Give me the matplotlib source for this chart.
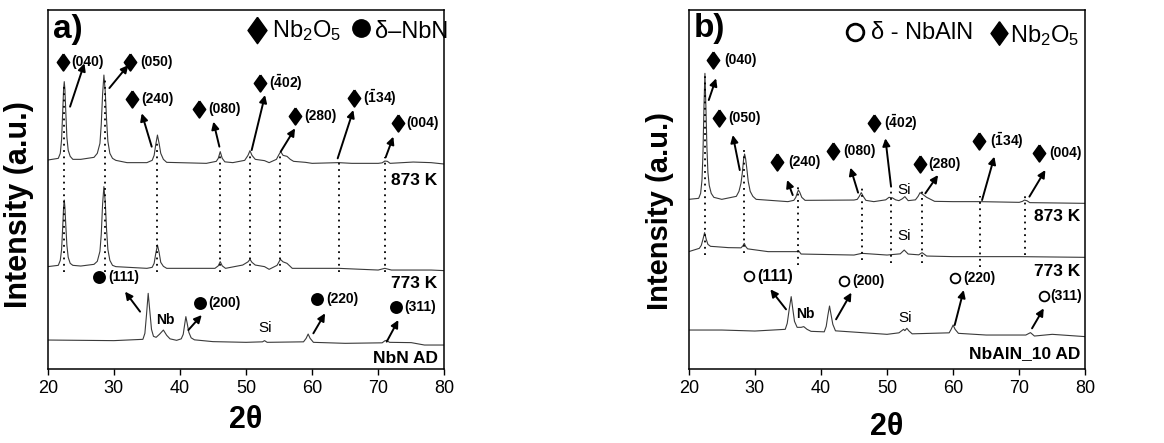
import matplotlib.pyplot as plt
import numpy as np

plt.rcParams['font.family'] = ['Liberation Sans', 'DejaVu Sans']
plt.rcParams['mathtext.fontset'] = 'custom'
plt.rcParams['mathtext.rm'] = 'Liberation Sans'
plt.rcParams['mathtext.it'] = 'Liberation Sans:italic'
plt.rcParams['mathtext.bf'] = 'Liberation Sans:bold'

# ---- panel a : NbN film (2theta, intensity a.u. incl. vertical offset)
tt_a873 = [20, 21.6, 21.9, 22.1, 22.25, 22.4, 22.5, 22.6, 22.75, 22.9, 23.1, 23.4, 23.8, 25, 27.0, 27.5,
           27.9, 28.1, 28.3, 28.5, 28.7, 28.9, 29.1, 29.4, 29.8, 30.3, 32, 35, 35.8, 36.1, 36.35, 36.6,
           36.85, 37.1, 37.5, 38, 44, 45.5, 45.8, 46.1, 46.4, 46.8, 48, 49.8, 50.3, 50.6, 50.9, 51.4,
           52.8, 53.5, 54.6, 55.0, 55.25, 55.6, 56.2, 56.7, 57.2, 59, 60, 64, 66, 70, 70.6, 71.0, 71.4,
           71.8, 75.3, 78, 80]
i_a873 = [209.3, 211, 216, 230, 255, 280, 287.7, 280, 255, 232, 219, 213, 210, 210, 212, 216,
          226, 245, 275, 294.3, 278, 250, 228, 216, 211, 209, 206.7, 206.7, 209, 214, 225, 234.3,
          226, 216, 210, 207, 206, 208, 211, 217.7, 211, 207.5, 206.7, 209, 214, 218.7, 214, 210,
          208.7, 206.7, 210, 215, 217.7, 214, 213, 210, 208, 207, 206, 206.7, 206, 206, 206.5, 208.3, 208,
          206, 207.3, 206.7, 205.3]

tt_a773 = [20, 21.6, 21.9, 22.1, 22.25, 22.4, 22.5, 22.6, 22.75, 22.9, 23.1, 23.4, 23.8, 25, 27.0, 27.5,
           27.9, 28.1, 28.3, 28.5, 28.7, 28.9, 29.1, 29.4, 29.8, 30.3, 35, 35.8, 36.1, 36.35, 36.6, 36.85,
           37.1, 37.5, 38, 45.3, 45.8, 46.1, 46.4, 46.9, 49.5, 50.3, 50.6, 50.9, 51.4, 52.8, 53.5, 54.7,
           55.2, 55.6, 56.2, 57, 59, 64, 70, 71, 72, 78, 80]
i_a773 = [102.7, 104, 109, 120, 140, 162, 169.3, 162, 142, 124, 112, 106, 104, 103.3, 105, 108,
          118, 135, 165, 182.7, 168, 140, 120, 109, 104, 102.7, 101, 102, 106, 116, 124.3, 117,
          107, 103, 101, 101, 103.5, 107.7, 103.5, 101, 104.3, 107.5, 110, 107, 104.3, 102.7, 100, 104,
          110, 107.5, 106, 101, 101, 101, 99.3, 101, 99.3, 99.3, 98.7]

tt_aAD = [20, 30, 34.4, 34.7, 34.95, 35.2, 35.45, 35.7, 36.0, 36.4, 36.9, 37.5, 38.0, 38.5, 39.5, 40.2,
          40.5, 40.7, 40.9, 41.1, 41.35, 41.7, 42.2, 45, 50, 52.5, 52.8, 53.2, 58.7, 59.1, 59.4, 59.7,
          60.2, 65, 70.6, 71.0, 71.3, 71.7, 75, 77, 80]
i_aAD = [29.3, 28.7, 30, 36, 55, 76, 58, 40, 33, 32, 35, 39.3, 34, 30.5, 29, 30.5,
         35, 44, 52.7, 46, 37, 31.5, 29.5, 27.7, 27, 27.5, 28.7, 27, 27.5, 31, 35.3, 31,
         27, 26, 26.5, 28.5, 29, 27, 26.7, 24.3, 24.3]

pk_a = [22.5, 28.6, 36.6, 46.1, 50.6, 55.2, 64.0, 71.0]
pk_a_top = [286, 292.7, 229.3, 217.7, 217.7, 216, 210, 212.7]

# ---- panel b : NbAlN_10 film
tt_b873 = [20, 21.5, 21.8, 22.0, 22.15, 22.3, 22.45, 22.6, 22.75, 22.9, 23.1, 23.4, 23.8, 25, 27.2, 27.6,
           27.9, 28.1, 28.3, 28.45, 28.6, 28.8, 29.0, 29.3, 29.7, 30.2, 35, 35.9, 36.2, 36.45, 36.6, 36.8,
           37.1, 37.6, 45, 45.5, 45.8, 46.1, 46.4, 46.8, 48, 49.8, 50.3, 50.8, 51.3, 51.8, 52.3, 52.7,
           53.2, 54.3, 54.7, 55.0, 55.4, 56.0, 56.6, 57.2, 60, 64, 70, 70.5, 70.8, 71.2, 71.6, 80]
i_b873 = [170, 171, 176, 189, 215, 262, 296, 262, 222, 197, 184, 176, 172, 170, 173, 178,
          186, 196, 210, 215.3, 211, 200, 188, 178, 173, 170, 167.7, 169, 172, 177, 179.3, 177,
          172, 169, 169.3, 170, 173, 176.7, 173, 169, 167.7, 169.5, 172, 171.5, 169.5, 168.7, 170.5, 172.7,
          168.7, 169.5, 173, 176.7, 175, 172, 170, 168, 167.7, 167.7, 167, 168, 169.3, 168.5, 166.7, 166]

tt_b773 = [20, 21.6, 21.9, 22.15, 22.4, 22.65, 22.9, 23.3, 24, 26, 27.9, 28.2, 28.4, 28.6, 28.9, 32,
           36.3, 36.6, 37, 45, 46.2, 50, 52.0, 52.6, 53.2, 54.8, 55.3, 56, 60, 70, 80]
i_b773 = [117.7, 121, 124, 130, 136.7, 130, 125, 123, 122.7, 121.7, 121.5, 123.5, 126, 123, 120.5, 117.7,
          117.7, 118.7, 115.3, 114.3, 116, 114.3, 115.5, 119.3, 115.3, 114.5, 116.7, 113.3, 112.7, 112.7, 112]

tt_bAD = [20, 25, 30, 34.6, 34.9, 35.2, 35.5, 35.75, 36.0, 36.4, 37.0, 37.4, 37.9, 38.5, 40.5, 40.8,
          41.05, 41.3, 41.55, 41.8, 42.2, 50, 51.8, 52.2, 52.5, 52.7, 53.0, 53.3, 53.8, 59.4, 59.7, 60.0,
          60.3, 60.8, 65, 71.0, 71.7, 72.3, 75, 80]
i_bAD = [39.3, 39.3, 38.3, 40, 46, 60, 72.7, 60, 48, 42, 42, 42.7, 40, 38, 37.5, 43,
         54, 63.3, 54, 45, 38.5, 35, 36.5, 38.5, 40, 38.7, 41, 38.5, 35.5, 36.5, 40, 44.3,
         40, 36, 34.3, 34.3, 36.7, 33.3, 35, 32.7]

pk_b = [22.4, 28.4, 36.6, 46.2, 50.6, 55.3, 64.0, 70.9]
pk_b_top = [294.3, 221, 184.3, 181, 181, 181, 173.3, 176.7]
pk_b_bot = [114.3, 116, 104.3, 109.3, 106, 106, 102.7, 114.3]

hkl_ox = ['(040)', '(050)', '(240)', '(080)', r'$\mathbf{(\bar{4}02)}$', '(280)', r'$\mathbf{(\bar{1}34)}$', '(004)']
hkl_n = ['(111)', '(200)', '(220)', '(311)']

DIAM = [(0, 1), (0.72, 0), (0, -1), (-0.72, 0), (0, 1)]


def tag(ax, mk, pos, tx, txt, tail, head, ms=12, fs=10, mfc='k'):
    ax.plot(pos[0], pos[1], marker=mk, ms=ms, color='k', mfc=mfc, mew=1.3, ls='none')
    ax.text(tx, pos[1], txt, fontsize=fs, fontweight='bold', va='center', ha='left')
    ax.annotate('', xy=head, xytext=tail,
                arrowprops=dict(arrowstyle='-|>', color='k', lw=1.4, mutation_scale=11,
                                shrinkA=0, shrinkB=0))


fig = plt.figure(figsize=(11.64, 4.43), dpi=100)
ax1 = fig.add_axes([0.041, 0.1663, 0.3407, 0.811])
ax2 = fig.add_axes([0.5917, 0.1663, 0.3407, 0.811])

for ax in (ax1, ax2):
    ax.set_xlim(20, 80)
    ax.set_ylim(0, 359.3)
    ax.set_xticks(np.arange(20, 81, 10))
    ax.set_yticks([])
    ax.tick_params(axis='x', direction='out', length=4, width=1, labelsize=13, top=False)
    for s in ax.spines.values():
        s.set_linewidth(1.1)

# panel a
ax1.plot(tt_a873, i_a873, color='#3a3a3a', lw=0.8)
ax1.plot(tt_a773, i_a773, color='#3a3a3a', lw=0.8)
ax1.plot(tt_aAD, i_aAD, color='#3a3a3a', lw=0.8)
ax1.vlines(pk_a, 97.7, pk_a_top, colors='k', linestyles=(0, (1, 2.5)), lw=1.3)

ox_a = [((22.27, 307.7), 23.63, (23.38, 262.7), (25.55, 306)),
        ((32.46, 307.7), 33.97, (29.33, 281.3), (32.2, 304.3)),
        ((32.71, 270), 34.22, (35.73, 222.7), (34.22, 256)),
        ((42.95, 260), 44.31, (45.97, 222.7), (45.06, 247.7)),
        ((52.12, 286.7), 53.54, (50.86, 219.3), (52.88, 274.3)),
        ((57.47, 253.3), 58.78, (55.25, 217.7), (57.42, 241)),
        ((66.34, 271), 67.76, (63.87, 211), (66.24, 259.3)),
        ((72.95, 246.7), 74.31, (71.13, 212), (72.29, 232.7))]
for lab, (p, tx, t0, t1) in zip(hkl_ox, ox_a):
    tag(ax1, DIAM, p, tx, lab, t0, t1)

n_a = [((27.77, 92.7), 29.18, (33.97, 57.7), (31.7, 77.7)),
       ((43.05, 66.7), 44.31, (41.28, 39.3), (43.3, 54.3)),
       ((60.7, 70), 62.21, (60.19, 36), (61.96, 56)),
       ((72.7, 62), 73.96, (71.29, 27.7), (73.05, 49.3))]
for lab, (p, tx, t0, t1) in zip(hkl_n, n_a):
    tag(ax1, 'o', p, tx, lab, t0, t1, ms=8)

ax1.text(20.76, 340, 'a)', fontsize=24, fontweight='bold', va='center')
ax1.plot(51.62, 339.3, marker=DIAM, ms=19, color='k', ls='none')
ax1.text(53.9, 339.3, r'Nb$_2$O$_5$', fontsize=17, va='center')
ax1.plot(67.35, 341, marker='o', ms=12.5, color='k', ls='none')
ax1.text(69.5, 337, 'δ–NbN', fontsize=17, va='center')
ax1.text(78.9, 189.3, '873 K', fontsize=12.5, fontweight='bold', ha='right', va='center')
ax1.text(78.9, 86, '773 K', fontsize=12.5, fontweight='bold', ha='right', va='center')
ax1.text(79.1, 11, 'NbN AD', fontsize=12.5, fontweight='bold', ha='right', va='center')
ax1.text(37.75, 49.3, 'Nb', fontsize=10, fontweight='bold', ha='center', va='center')
ax1.text(52.88, 41, 'Si', fontsize=11, ha='center', va='center')

# panel b
ax2.plot(tt_b873, i_b873, color='#3a3a3a', lw=0.8)
ax2.plot(tt_b773, i_b773, color='#3a3a3a', lw=0.8)
ax2.plot(tt_bAD, i_bAD, color='#3a3a3a', lw=0.8)
ax2.vlines(pk_b, pk_b_bot, pk_b_top, colors='k', linestyles=(0, (1, 2.5)), lw=1.3)

ox_b = [((23.63, 309.3), 25.3, (23.03, 269.3), (24.14, 291)),
        ((24.64, 251), 26.05, (27.72, 199.3), (26.66, 234.3)),
        ((33.36, 207.7), 35.03, (35.73, 174.3), (34.88, 189.3)),
        ((41.84, 218.7), 43.45, (45.62, 176.7), (44.46, 201.7)),
        ((48.09, 246), 49.5, (50.61, 182.7), (49.75, 231)),
        ((54.95, 205.3), 56.31, (55.8, 176), (57.72, 194.3)),
        ((63.87, 228.7), 65.64, (64.38, 169.3), (66.24, 212.7)),
        ((72.95, 216), 74.56, (71.54, 172.7), (73.96, 199.3))]
for lab, (p, tx, t0, t1) in zip(hkl_ox, ox_b):
    tag(ax2, DIAM, p, tx, lab, t0, t1)

n_b = [((29.08, 93.3), 30.34, (34.72, 60), (32.35, 80)),
       ((43.45, 88.7), 44.71, (42.29, 50), (44.61, 76.7)),
       ((60.34, 91.7), 61.6, (60.24, 44.3), (61.6, 79.3)),
       ((73.71, 73.3), 74.72, (71.94, 41), (73.71, 61))]
for k, (lab, (p, tx, t0, t1)) in enumerate(zip(hkl_n, n_b)):
    tag(ax2, 'o', p, tx, lab, t0, t1, ms=7, fs=11.5 if k == 0 else 10, mfc='none')

ax2.text(20.76, 341, 'b)', fontsize=24, fontweight='bold', va='center')
ax2.plot(45.21, 337.7, marker='o', ms=12, color='k', mfc='none', mew=2, ls='none')
ax2.text(47.5, 336, 'δ - NbAlN', fontsize=17, va='center')
ax2.plot(66.9, 336, marker=DIAM, ms=17, color='k', ls='none')
ax2.text(68.66, 334, r'Nb$_2$O$_5$', fontsize=17, va='center')
ax2.text(79.25, 153.3, '873 K', fontsize=12.5, fontweight='bold', ha='right', va='center')
ax2.text(79.25, 97.7, '773 K', fontsize=12.5, fontweight='bold', ha='right', va='center')
ax2.text(79.25, 16, 'NbAlN_10 AD', fontsize=12.5, fontweight='bold', ha='right', va='center')
ax2.text(37.65, 55, 'Nb', fontsize=10, fontweight='bold', ha='center', va='center')
for sx, sy in [(52.53, 179.3), (52.53, 133.3), (52.68, 51)]:
    ax2.text(sx, sy, 'Si', fontsize=11, ha='center', va='center')

ax1.set_xlabel('2θ', fontsize=22, fontweight='bold', labelpad=6)
ax2.set_xlabel('2θ', fontsize=22, fontweight='bold', labelpad=11)
ax1.set_ylabel('Intensity (a.u.)', fontsize=22, fontweight='bold')
ax2.set_ylabel('Intensity (a.u.)', fontsize=21, fontweight='bold')
ax1.yaxis.set_label_coords(-0.035, 0.46)
ax2.yaxis.set_label_coords(-0.037, 0.441)

fig.savefig('out.png', dpi=100)
